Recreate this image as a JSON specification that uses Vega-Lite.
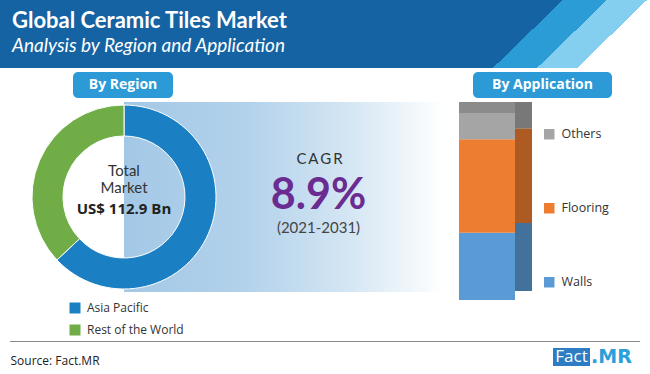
{
  "$schema": "https://vega.github.io/schema/vega-lite/v6.json",
  "padding": 0,
  "spacing": 0,
  "background": "white",
  "config": {"view": {"stroke": null}, "text": {"font": "Open Sans"}},
  "datasets": {
    "region": [
      {"region": "Asia Pacific", "share": 63},
      {"region": "Rest of the World", "share": 37}
    ],
    "application": [
      {"application": "Walls", "share": 36, "rank": 1},
      {"application": "Flooring", "share": 50, "rank": 2},
      {"application": "Others", "share": 14, "rank": 3}
    ],
    "one": [{"k": 1}]
  },
  "vconcat": [
    {
      "width": 650, "height": 68,
      "data": {"name": "one"},
      "layer": [
        {"mark": {"type": "bar", "fill": {"gradient": "linear", "x1": 0, "y1": 0, "x2": 1, "y2": 0.1077,
          "stops": [
            {"offset": 0, "color": "#1563a3"}, {"offset": 0.856, "color": "#1563a3"},
            {"offset": 0.856, "color": "#2b9cd6"}, {"offset": 0.923, "color": "#2b9cd6"},
            {"offset": 0.923, "color": "#84cff0"}, {"offset": 0.984, "color": "#84cff0"},
            {"offset": 0.984, "color": "#ffffff"}, {"offset": 1, "color": "#ffffff"}]}}, "encoding": {}},
        {"mark": {"type": "text", "text": "Global Ceramic Tiles Market", "align": "left", "baseline": "alphabetic", "dx": -313, "dy": -6, "font": "Lato", "fontSize": 22, "fontWeight": "bold", "color": "white"}, "encoding": {}},
        {"mark": {"type": "text", "text": "Analysis by Region and Application", "align": "left", "baseline": "alphabetic", "dx": -313, "dy": 18, "font": "Lato", "fontStyle": "italic", "fontSize": 19, "color": "white"}, "encoding": {}}
      ]
    },
    {"width": 650, "height": 4, "data": {"name": "one"}, "mark": {"type": "bar", "opacity": 0}, "encoding": {}},
    {
      "spacing": 0,
      "hconcat": [
        {"width": 73, "height": 26, "data": {"name": "one"}, "mark": {"type": "bar", "opacity": 0}, "encoding": {}},
        {"width": 100, "height": 26, "data": {"name": "one"}, "view": {"fill": "#2b9ad6", "cornerRadius": 5},
          "mark": {"type": "text", "text": "By Region", "font": "Open Sans", "fontSize": 14, "fontWeight": "bold", "color": "white"}, "encoding": {}},
        {"width": 300, "height": 26, "data": {"name": "one"}, "mark": {"type": "bar", "opacity": 0}, "encoding": {}},
        {"width": 139, "height": 26, "data": {"name": "one"}, "view": {"fill": "#2b9ad6", "cornerRadius": 5},
          "mark": {"type": "text", "text": "By Application", "font": "Open Sans", "fontSize": 14, "fontWeight": "bold", "color": "white"}, "encoding": {}}
      ]
    },
    {"width": 650, "height": 4, "data": {"name": "one"}, "mark": {"type": "bar", "opacity": 0}, "encoding": {}},
    {
      "spacing": 0,
      "hconcat": [
        {
          "width": 248, "height": 190,
          "layer": [
            {"data": {"name": "one"}, "mark": {"type": "bar", "fill": {"gradient": "linear", "x1": 0, "y1": 0, "x2": 1, "y2": 0,
              "stops": [{"offset": 0, "color": "#ffffff"}, {"offset": 0.5, "color": "#ffffff"}, {"offset": 0.5, "color": "#a3c8e6"}, {"offset": 1, "color": "#b3d2eb"}]}}, "encoding": {}},
            {"data": {"name": "region"},
              "mark": {"type": "arc", "innerRadius": 61, "outerRadius": 92, "stroke": "white", "strokeWidth": 1},
              "encoding": {
                "theta": {"field": "share", "type": "quantitative"},
                "color": {"field": "region", "type": "nominal",
                  "scale": {"domain": ["Asia Pacific", "Rest of the World"], "range": ["#1b7fc3", "#70ad47"]},
                  "legend": {"title": null, "orient": "none", "legendX": 69, "legendY": 200, "symbolType": "square", "symbolSize": 121, "symbolStrokeWidth": 0, "labelFont": "Open Sans", "labelFontSize": 12, "labelColor": "#333333", "rowPadding": 10, "labelOffset": 6}}
              }},
            {"data": {"name": "one"}, "mark": {"type": "text", "text": "Total", "font": "Lato", "fontSize": 15, "color": "#333333", "dy": -26}, "encoding": {}},
            {"data": {"name": "one"}, "mark": {"type": "text", "text": "Market", "font": "Lato", "fontSize": 15, "color": "#333333", "dy": -9}, "encoding": {}},
            {"data": {"name": "one"}, "mark": {"type": "text", "text": "US$ 112.9 Bn", "font": "Open Sans", "fontSize": 15, "fontWeight": "bold", "color": "#222222", "dy": 12}, "encoding": {}}
          ]
        },
        {
          "width": 211, "height": 190,
          "data": {"name": "one"},
          "layer": [
            {"mark": {"type": "bar", "fill": {"gradient": "linear", "x1": 0, "y1": 0, "x2": 1, "y2": 0,
              "stops": [{"offset": 0, "color": "#b3d2eb"}, {"offset": 0.5, "color": "#d6e7f4"}, {"offset": 0.93, "color": "#ffffff"}, {"offset": 1, "color": "#ffffff"}]}}, "encoding": {}},
            {"mark": {"type": "text", "text": "C\u2009A\u2009G\u2009R", "font": "Lato", "fontSize": 15, "color": "#333333", "dx": -34, "dy": -38}, "encoding": {}},
            {"mark": {"type": "text", "text": "8.9%", "font": "Lato", "fontSize": 43, "fontWeight": "bold", "color": "#6b2c91", "dx": -35, "dy": -1}, "encoding": {}},
            {"mark": {"type": "text", "text": "(2021-2031)", "font": "Lato", "fontSize": 15, "color": "#444444", "dx": -35, "dy": 31}, "encoding": {}}
          ]
        },
        {
          "spacing": 0,
          "vconcat": [
            {"width": 56, "height": 11, "data": {"name": "one"}, "mark": {"type": "bar", "fill": "#8b8b8b"}, "encoding": {}},
            {
              "width": 56, "height": 187,
              "data": {"name": "application"},
              "mark": {"type": "bar"},
              "encoding": {
                "x": {"datum": "bar", "type": "nominal", "axis": null, "scale": {"paddingInner": 0, "paddingOuter": 0}},
                "y": {"field": "share", "type": "quantitative", "stack": "zero", "axis": null, "scale": {"domain": [0, 100]}},
                "color": {"field": "application", "type": "nominal",
                  "scale": {"domain": ["Others", "Flooring", "Walls"], "range": ["#a5a5a5", "#ed7d31", "#5b9bd5"]},
                  "legend": null},
                "order": {"field": "rank", "type": "quantitative"}
              }
            }
          ]
        },
        {
          "width": 17, "height": 189,
          "data": {"name": "application"},
          "encoding": {
            "x": {"datum": "bar", "type": "nominal", "axis": null, "scale": {"paddingInner": 0, "paddingOuter": 0}},
            "y": {"field": "share", "type": "quantitative", "stack": "zero", "axis": null, "scale": {"domain": [0, 100]}},
            "order": {"field": "rank", "type": "quantitative"}
          },
          "layer": [
            {
              "mark": {"type": "bar"},
              "encoding": {
                "color": {"field": "application", "type": "nominal",
                  "scale": {"domain": ["Others", "Flooring", "Walls"], "range": ["#a5a5a5", "#ed7d31", "#5b9bd5"]},
                  "legend": {"title": null, "orient": "none", "legendX": 28, "legendY": 26, "symbolType": "square", "symbolSize": 110, "symbolStrokeWidth": 0, "labelFont": "Open Sans", "labelFontSize": 12.5, "labelColor": "#333333", "rowPadding": 61, "labelOffset": 6}}
              }
            },
            {
              "mark": {"type": "bar", "fill": "#000000", "opacity": 0.27}
            }
          ]
        }
      ],
      "resolve": {"scale": {"color": "independent"}, "legend": {"color": "independent"}}
    },
    {
      "spacing": 0,
      "vconcat": [
        {"width": 650, "height": 5, "data": {"name": "one"}, "mark": {"type": "bar", "opacity": 0}, "encoding": {}},
        {"spacing": 0, "hconcat": [
          {"width": 10, "height": 1, "data": {"name": "one"}, "mark": {"type": "bar", "opacity": 0}, "encoding": {}},
          {"width": 630, "height": 1, "data": {"name": "one"}, "mark": {"type": "bar", "fill": "#8c8c8c"}, "encoding": {}}
        ]},
        {"width": 650, "height": 6, "data": {"name": "one"}, "mark": {"type": "bar", "opacity": 0}, "encoding": {}},
        {"spacing": 0, "hconcat": [
          {"width": 553, "height": 25, "data": {"name": "one"}, "mark": {"type": "text", "text": "Source: Fact.MR", "align": "left", "dx": -266, "dy": 0, "font": "Open Sans", "fontSize": 12, "color": "#222222"}, "encoding": {}},
          {"spacing": 0, "vconcat": [
            {"width": 37, "height": 18, "data": {"name": "one"}, "view": {"fill": "#2c7dc3"}, "mark": {"type": "text", "text": "Fact", "font": "Open Sans", "fontSize": 17, "color": "white"}, "encoding": {}},
            {"width": 37, "height": 7, "data": {"name": "one"}, "mark": {"type": "bar", "opacity": 0}, "encoding": {}}
          ]},
          {"width": 52, "height": 25, "data": {"name": "one"}, "mark": {"type": "text", "text": ".MR", "align": "left", "dx": -25, "dy": -3.5, "font": "DejaVu Sans", "fontSize": 19, "fontWeight": "bold", "color": "#2a9fd9"}, "encoding": {}}
        ]}
      ]
    }
  ],
  "resolve": {"scale": {"color": "independent"}, "legend": {"color": "independent"}}
}
